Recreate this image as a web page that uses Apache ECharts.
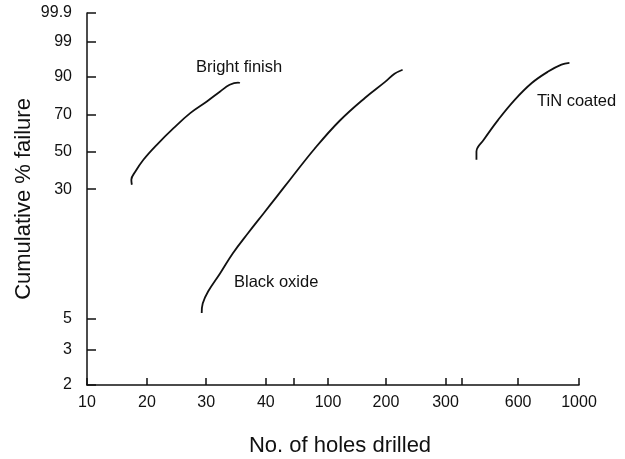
<!DOCTYPE html>
<html>
<head>
<meta charset="utf-8">
<script src="https://cdn.jsdelivr.net/npm/echarts@6/dist/echarts.min.js"></script>
<style>
  html, body { margin: 0; padding: 0; background: #fff; }
  #chart { width: 625px; height: 459px; }
</style>
</head>
<body>
<div id="chart"></div>
<script>
// tick labels
const xTickHoles = [10, 20, 30, 40, 100, 200, 300, 600, 1000];
const xExtraTicks = [60, 350];
const yTickPct = [2, 3, 5, 30, 50, 70, 90, 99, 99.9];

// where each labelled tick sits along its axis (fraction of axis length)
const xStopPos = [0, 0.1218, 0.2422, 0.3634, 0.4898, 0.6076, 0.7288, 0.8762, 1];
const yStopPos = [0, 0.0942, 0.1794, 0.5265, 0.6269, 0.7256, 0.8278, 0.9228, 1];

// curves: [holes drilled, cumulative % failure]
const brightFinish = [
  [16.8, 32.0], [16.7, 34.4], [17.5, 38.6], [19.2, 45.2], [21.4, 53.7], [24.0, 62.8],
  [26.9, 71.2], [30.1, 78.1], [32.1, 83.5], [33.6, 86.7], [35.0, 87.7], [35.3, 87.5]
];
const blackOxide = [
  [29.1, 5.4], [29.3, 6.2], [30.3, 7.4], [32.1, 9.6], [34.1, 12.7], [36.7, 16.8],
  [39.6, 22.0], [47.0, 27.3], [57.1, 34.4], [82.1, 51.6], [115, 66.9], [156, 80.2],
  [198, 88.0], [212, 91.4], [224, 93.0]
];
const tinCoated = [
  [403, 45.2], [403, 50.2], [432, 56.4], [496, 67.4], [581, 79.0], [673, 87.5],
  [772, 92.3], [863, 94.7], [923, 95.2]
];

// piecewise scale through the printed tick positions
function makeScale(stops, pos, tf) {
  const t = stops.map(tf);
  return function (v) {
    const u = tf(v);
    let i = 0;
    while (i < t.length - 2 && u > t[i + 1]) i++;
    return pos[i] + (u - t[i]) / (t[i + 1] - t[i]) * (pos[i + 1] - pos[i]);
  };
}
const xScale = makeScale(xTickHoles, xStopPos, v => Math.log(v));
const yScale = makeScale(yTickPct, yStopPos, p => Math.log(-Math.log(1 - p / 100)));

const toXY = arr => arr.map(d => [xScale(d[0]), yScale(d[1])]);

function nearestLabel(v, ticks, scale) {
  let best = ticks[0], bd = Infinity;
  ticks.forEach(tk => {
    const d = Math.abs(scale(tk) - v);
    if (d < bd) { bd = d; best = tk; }
  });
  return String(best);
}

const chart = echarts.init(document.getElementById('chart'), null, { renderer: 'canvas' });

const axisColor = '#111';
const font = 'Liberation Sans, Arial, sans-serif';

const lineSeries = (name, data) => ({
  name: name,
  type: 'line',
  data: toXY(data),
  smooth: 0.4,
  showSymbol: false,
  lineStyle: { color: '#111', width: 1.8 },
  animation: false
});

chart.setOption({
  backgroundColor: '#fff',
  animation: false,
  grid: { left: 87, right: 46, top: 13, bottom: 74, outerBoundsMode: 'none' },
  xAxis: {
    type: 'value',
    min: 0,
    max: 1,
    name: 'No. of holes drilled',
    nameLocation: 'middle',
    nameGap: 50,
    nameMoveOverlap: false,
    nameTextStyle: { fontFamily: font, fontSize: 22, color: axisColor, padding: [0, 0, 0, 14] },
    axisLine: { lineStyle: { color: axisColor, width: 1.5 } },
    axisTick: {
      inside: true,
      length: 7,
      lineStyle: { color: axisColor, width: 1.5 },
      customValues: xTickHoles.concat(xExtraTicks).map(xScale)
    },
    axisLabel: {
      fontFamily: font,
      fontSize: 16,
      color: axisColor,
      margin: 10,
      customValues: xTickHoles.map(xScale),
      formatter: v => nearestLabel(v, xTickHoles, xScale)
    },
    splitLine: { show: false }
  },
  yAxis: {
    type: 'value',
    min: 0,
    max: 1,
    name: 'Cumulative % failure',
    nameLocation: 'middle',
    nameGap: 52,
    nameMoveOverlap: false,
    nameTextStyle: { fontFamily: font, fontSize: 22, color: axisColor },
    axisLine: { show: true, lineStyle: { color: axisColor, width: 1.5 } },
    axisTick: {
      show: true,
      inside: true,
      length: 9,
      lineStyle: { color: axisColor, width: 1.5 },
      customValues: yTickPct.map(yScale)
    },
    axisLabel: {
      fontFamily: font,
      fontSize: 16,
      color: axisColor,
      margin: 15,
      customValues: yTickPct.map(yScale),
      formatter: v => nearestLabel(v, yTickPct, yScale)
    },
    splitLine: { show: false }
  },
  series: [
    lineSeries('Bright finish', brightFinish),
    lineSeries('Black oxide', blackOxide),
    lineSeries('TiN coated', tinCoated)
  ],
  graphic: [
    { type: 'text', left: 196, top: 59, style: { text: 'Bright finish', font: '16.5px ' + font, fill: axisColor } },
    { type: 'text', left: 234, top: 274, style: { text: 'Black oxide', font: '16.5px ' + font, fill: axisColor } },
    { type: 'text', left: 537, top: 93, style: { text: 'TiN coated', font: '16.5px ' + font, fill: axisColor } }
  ]
});
</script>
</body>
</html>
